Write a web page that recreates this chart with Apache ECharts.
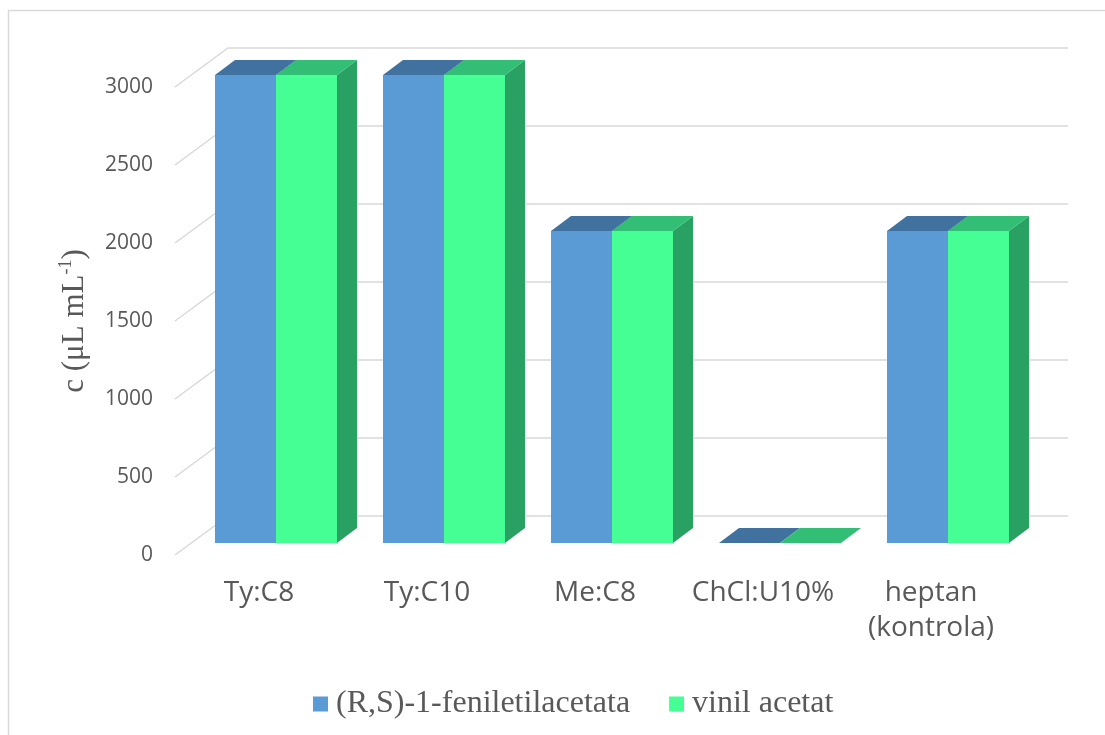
<!DOCTYPE html>
<html>
<head>
<meta charset="utf-8">
<script src="https://cdn.jsdelivr.net/npm/echarts@6/dist/echarts.min.js"></script>
<style>
  html, body { margin: 0; padding: 0; background: #fff; }
  #chart { width: 1105px; height: 735px; }
</style>
</head>
<body>
<div id="chart"></div>
<script>
// podaci
const categories = ["Ty:C8", "Ty:C10", "Me:C8", "ChCl:U10%", "heptan\n(kontrola)"];
const fenilValues = [3000, 3000, 2000, 0, 2000];
const vinilValues = [3000, 3000, 2000, 0, 2000];
const tickValues = [0, 500, 1000, 1500, 2000, 2500, 3000];
const seriesNames = ["(R,S)-1-feniletilacetata", "vinil acetat"];

// boje: prednja, gornja, bocna strana
const blue = { front: "#5B9BD5", top: "#41729F", side: "#41729F" };
const green = { front: "#45FE94", top: "#32BF75", side: "#29A162" };

// 3d pomaci (px)
const barDepth = [20, -15];
const wallDepth = [53, -39];

function barRender(colors, left) {
  return function (params, api) {
    const cat = api.value(0);
    const val = api.value(1);
    const top = api.coord([cat, val]);
    const base = api.coord([cat, 0]);
    const band = api.size([1, 0])[0];
    const w = band * 61 / 168;
    const x0 = left ? top[0] - w : top[0];
    const x1 = x0 + w;
    const yt = top[1], yb = base[1];
    const dx = barDepth[0], dy = barDepth[1];
    const children = [];
    if (yb - yt > 0.5) {
      children.push({
        type: "rect",
        shape: { x: x0, y: yt, width: w, height: yb - yt },
        style: { fill: colors.front }
      });
      children.push({
        type: "polygon",
        shape: { points: [[x1, yt], [x1 + dx, yt + dy], [x1 + dx, yb + dy], [x1, yb]] },
        style: { fill: colors.side }
      });
    }
    children.push({
      type: "polygon",
      shape: { points: [[x0, yt], [x1, yt], [x1 + dx, yt + dy], [x0 + dx, yt + dy]] },
      style: { fill: colors.top }
    });
    return { type: "group", children: children };
  };
}

const chart = echarts.init(document.getElementById("chart"));
chart.setOption({
  backgroundColor: "#fff",
  animation: false,
  graphic: [{
    type: "rect",
    shape: { x: 8.5, y: 10.5, width: 1200, height: 800 },
    style: { fill: "none", stroke: "#d9d9d9", lineWidth: 1.5 },
    z: -10
  }],
  legend: {
    left: 308,
    top: 683,
    itemWidth: 15,
    itemHeight: 15,
    itemGap: 39,
    icon: "rect",
    data: seriesNames,
    textStyle: {
      fontFamily: "Liberation Serif",
      fontSize: 32,
      color: "#595959",
      padding: [0, 0, 0, 3]
    }
  },
  grid: [
    // ravnina prednje strane stupaca
    { left: 192, right: 73, top: 75, bottom: 192 },
    // ravnina prednjeg ruba zidova (oznake osi)
    { left: 175, right: 90, top: 87, bottom: 180 }
  ],
  xAxis: [
    {
      gridIndex: 0, type: "category", data: categories,
      show: false
    },
    {
      gridIndex: 1, type: "category", data: categories,
      axisLine: { show: false },
      axisTick: { show: false },
      axisLabel: {
        interval: 0,
        margin: 21,
        fontFamily: "Open Sans",
        fontSize: 28,
        lineHeight: 35,
        color: "#595959"
      }
    }
  ],
  yAxis: [
    {
      gridIndex: 0, type: "value", min: 0, max: 3000, interval: 500,
      show: false
    },
    {
      gridIndex: 1, type: "value", min: 0, max: 3000, interval: 500,
      axisLine: { show: false },
      axisTick: { show: false },
      splitLine: { show: false },
      axisLabel: {
        margin: 22,
        fontFamily: "Open Sans",
        fontSize: 21,
        color: "#595959",
        formatter: v => String(v)
      },
      name: "{n|c (μL mL}{s|-1}{n|)}",
      nameLocation: "middle",
      nameGap: 82,
      nameRotate: 90,
      nameTextStyle: {
        rich: {
          n: { fontFamily: "Liberation Serif", fontSize: 31, color: "#595959", lineHeight: 36 },
          s: { fontFamily: "Liberation Serif", fontSize: 18, color: "#595959", verticalAlign: "top", lineHeight: 36 }
        }
      }
    }
  ],
  series: [
    {
      name: "grid",
      type: "custom",
      xAxisIndex: 1,
      yAxisIndex: 1,
      silent: true,
      z: 1,
      data: tickValues.map(v => [0, v]),
      renderItem: function (params, api) {
        const v = api.value(1);
        const band = api.size([1, 0])[0];
        const p0 = api.coord([0, v]);
        const p1 = api.coord([categories.length - 1, v]);
        const xl = p0[0] - band / 2;
        const xr = p1[0] + band / 2;
        const y = p0[1];
        return {
          type: "polyline",
          shape: { points: [[xl, y], [xl + wallDepth[0], y + wallDepth[1]], [xr + wallDepth[0], y + wallDepth[1]]] },
          style: { stroke: "#d9d9d9", lineWidth: 1.5, fill: "none" }
        };
      }
    },
    {
      name: seriesNames[0],
      type: "custom",
      xAxisIndex: 0,
      yAxisIndex: 0,
      z: 2,
      itemStyle: { color: blue.front },
      data: fenilValues.map((v, i) => [i, v]),
      renderItem: barRender(blue, true)
    },
    {
      name: seriesNames[1],
      type: "custom",
      xAxisIndex: 0,
      yAxisIndex: 0,
      z: 3,
      itemStyle: { color: green.front },
      data: vinilValues.map((v, i) => [i, v]),
      renderItem: barRender(green, false)
    }
  ]
});
</script>
</body>
</html>
